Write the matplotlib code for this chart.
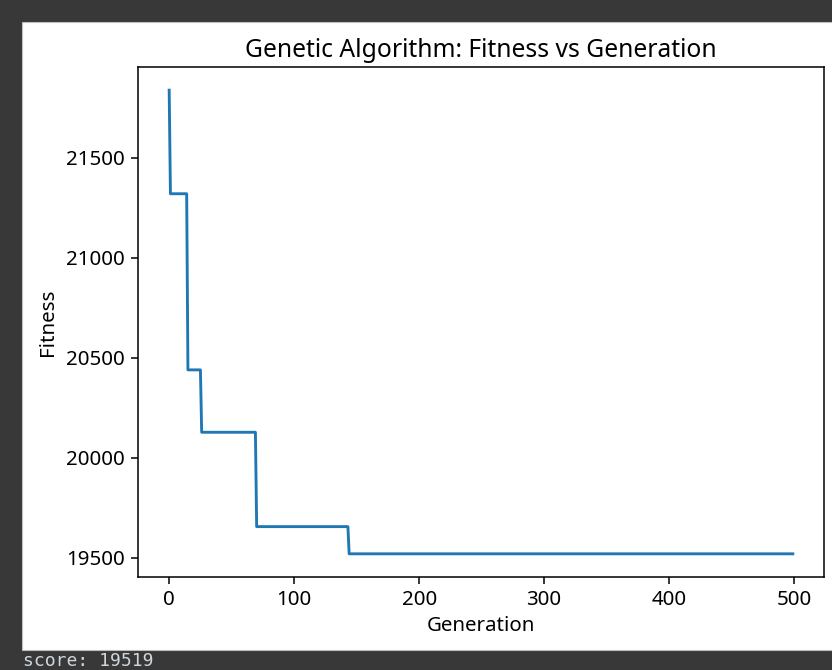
import numpy as np
import matplotlib
matplotlib.use('Agg')
import matplotlib.pyplot as plt
from matplotlib.patches import Rectangle

# generations where the best fitness drops, and the level held from there on
change_gens = [0, 1, 15, 26, 70, 144]
fitness_levels = [21838, 21320, 20439, 20127, 19655, 19519]
n_generations = 500
final_score = 19519

# the screenshot is a notebook output zoomed about 1.38x
s = 1.38
fs = 1.07  # the text in the shot is a bit bigger than the rest
plt.rcParams['font.family'] = ['Noto Sans', 'DejaVu Sans']
plt.rcParams['font.size'] = 10 * s * fs

lengths = np.diff(change_gens + [n_generations])
fitness = np.repeat(fitness_levels, lengths)
generations = np.arange(n_generations)

fig = plt.figure(figsize=(8.32, 6.70), dpi=100, facecolor='#383838')

# white output cell, drawn behind the axes
fig.patches.append(Rectangle((22 / 832, 20 / 670), 1, 628 / 670,
                             transform=fig.transFigure, facecolor='white',
                             edgecolor='#bdbdbd', linewidth=0.8, zorder=-1))

ax = fig.add_axes([138 / 832, 93 / 670, 686 / 832, 510 / 670])
ax.set_zorder(1)
ax.plot(generations, fitness, color='#1f77b4', linewidth=1.5 * s)

ax.set_title('Genetic Algorithm: Fitness vs Generation', fontsize=12 * s * fs, pad=5 * s)
ax.set_xlabel('Generation', labelpad=3 * s)
ax.set_ylabel('Fitness', labelpad=4 * s)
ax.set_yticks([19500, 20000, 20500, 21000, 21500])
ax.tick_params(length=3.5 * s, width=0.8 * s, pad=3.5 * s)
for sp in ax.spines.values():
    sp.set_linewidth(0.8 * s)

fig.text(23 / 832, 4 / 670, f'score: {final_score}', family='DejaVu Sans Mono',
         fontsize=13, color='#cfd6dc', va='baseline')

fig.savefig('out.png', dpi=100, facecolor=fig.get_facecolor())
